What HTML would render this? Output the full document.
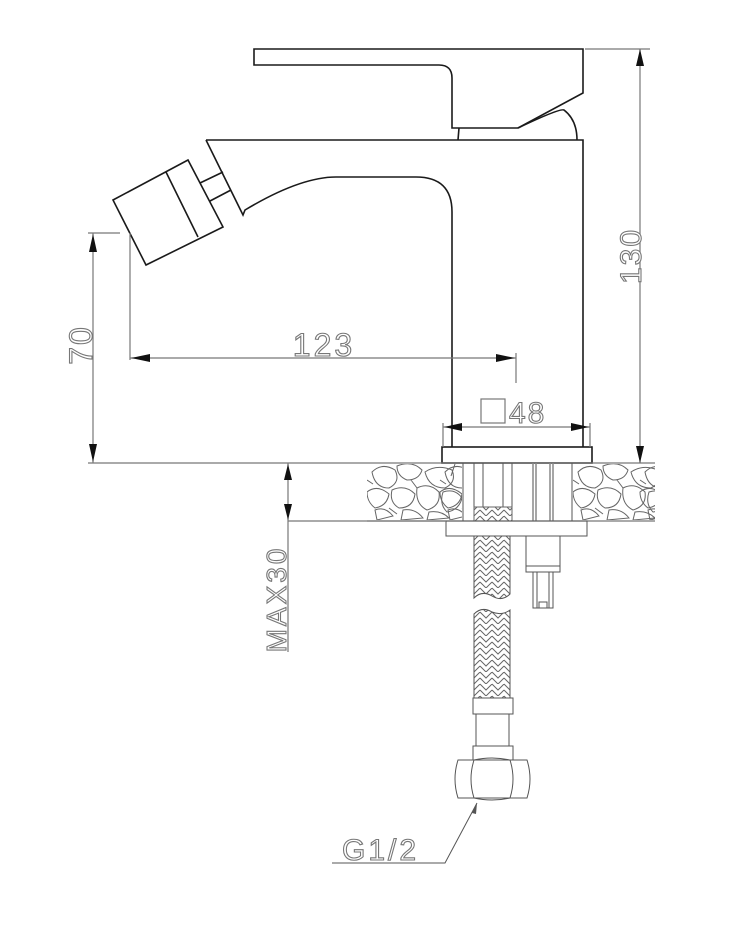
<!DOCTYPE html>
<html><head><meta charset="utf-8"><style>
html,body{margin:0;padding:0;background:#fff;}
svg{display:block;}
.k{fill:none;stroke:#1a1a1a;stroke-width:1.6;}
.d{fill:none;stroke:#777;stroke-width:1.2;}
.t{fill:none;stroke:#555;stroke-width:1;}
.s{fill:none;stroke:#666;stroke-width:1;}
text{font-family:"Liberation Sans",sans-serif;fill:#fff;stroke:#777;stroke-width:1.1;font-weight:normal;}
</style></head><body>
<svg width="750" height="938" viewBox="0 0 750 938" xmlns="http://www.w3.org/2000/svg">
<defs>
<pattern id="br" width="12" height="12" patternUnits="userSpaceOnUse">
<path d="M0 0 L6 6 L12 0 M0 6 L6 12 L12 6 M-6 6 L0 12 M6 -6 L12 0" fill="none" stroke="#666" stroke-width="1"/>
</pattern>
<clipPath id="cl"><rect x="367" y="464" width="95" height="56"/></clipPath>
<clipPath id="cr"><rect x="573" y="464" width="82" height="56"/></clipPath>
<g id="stone">
<path class="s" d="M5 8 Q15 -2 28 6 Q34 18 22 24 Q8 24 5 8Z M30 2 Q45 -4 55 6 Q52 16 40 16 Q30 12 30 2Z M58 8 Q70 0 85 6 Q90 18 78 24 Q62 24 58 8Z M0 28 Q10 20 22 30 Q20 42 8 44 Q0 38 0 28Z M25 26 Q38 20 48 30 Q46 44 32 44 Q22 38 25 26Z M50 24 Q62 18 72 28 Q74 42 60 46 Q48 40 50 24Z M76 28 Q88 24 95 34 Q92 46 80 48 Q72 40 76 28Z M8 46 Q18 42 26 52 L10 56 Z M36 46 Q48 44 56 54 L34 56 Z M62 48 Q74 46 82 54 L60 56Z M88 0 L84 12 M0 16 L6 20 M44 16 L50 24 M22 44 L30 50"/>
</g>
</defs>

<!-- Handle -->
<path class="k" d="M254 49 L583 49 L583 93 L518 128 L452 128 L452 78 Q452 65 439 65 L254 65 Z"/>
<path class="k" d="M458 140 L459 128 M518 128 Q560 108 564 110 Q577 120 577 140"/>
<!-- Body -->
<path class="k" d="M206 140 L583 140 L583 447 M452 447 L452 212 Q452 177 416 177 L336 177 Q300 177 245 210 L243 215 L206 140"/>
<!-- stem -->
<path class="k" d="M200 183 L223 172 M210 201 L231 190"/>
<!-- nozzle -->
<path class="k" d="M113 200 L188 160 L223 227 L146 265 Z M166 172 L198 237"/>

<!-- base plate -->
<rect class="k" x="442" y="447" width="150" height="16"/>

<!-- counter -->
<line class="d" x1="88" y1="463" x2="655" y2="463"/>
<line class="d" x1="367" y1="521" x2="655" y2="521"/>
<g clip-path="url(#cl)">
<use href="#stone" x="367" y="464"/><use href="#stone" x="440" y="464"/>
</g>
<g clip-path="url(#cr)">
<use href="#stone" x="573" y="464"/><use href="#stone" x="640" y="464"/>
</g>
<line class="t" x1="463" y1="463" x2="463" y2="521"/>
<line class="t" x1="572" y1="463" x2="572" y2="521"/>
<!-- inner fittings -->
<path class="t" d="M474 463 L474 507 M483 463 L483 507 M503 463 L503 507 M512 463 L512 507 M474 507 L512 507"/>
<rect x="474" y="507" width="38" height="14" fill="url(#br)" stroke="#666"/>
<path class="t" d="M533 463 V521 M536 463 V521 M550 463 V521 M553 463 V521" style="stroke:#888;stroke-width:1.5"/>
<rect class="t" x="446" y="521" width="141" height="15"/>
<!-- hose -->
<path d="M474 536 L474 598 Q482 590 492 596 Q502 602 510 594 L510 536 Z" fill="url(#br)" stroke="#555"/>
<path d="M474 698 L474 614 Q482 606 492 612 Q502 616 510 610 L510 698 Z" fill="url(#br)" stroke="#555"/>
<rect class="t" x="473" y="698" width="40" height="16"/>
<rect class="t" x="476" y="714" width="33" height="32"/>
<rect class="t" x="473" y="746" width="40" height="14"/>
<path class="t" d="M458 760 L527 760 Q533 779 527 798 L458 798 Q452 779 458 760 Z M474 760 Q468 779 474 798 M510 760 Q516 779 510 798 M474 760 Q492 756 510 760 M474 798 Q492 802 510 798"/>
<!-- right valve -->
<rect class="t" x="526" y="536" width="34" height="36"/>
<path class="t" d="M526 566 L560 566"/>
<path class="t" d="M533 572 L533 608 L553 608 L553 572 M539 608 L539 602 L547 602 L547 608 M537 572 V608 M549 572 V608"/>

<!-- leader G1/2 -->
<path class="t" d="M477 803 L445 863 L332 863"/>
<path d="M477 803 L472 813 L476 814 Z" fill="#555"/>
<text x="342" y="860" font-size="30" letter-spacing="3">G1/2</text>

<!-- 130 dim -->
<path class="d" d="M585 49 L650 49 M640 49 L640 463"/>
<path d="M640 49 L636 66 L644 66Z M640 463 L636 446 L644 446Z" fill="#111"/>
<text transform="translate(641,256) rotate(-90)" text-anchor="middle" font-size="30" letter-spacing="2">130</text>

<!-- 123 dim -->
<path class="d" d="M130 233 L130 360 M130 358 L516 358 M516 353 L516 383"/>
<path d="M131 358 L150 354 L150 362Z M515 358 L496 354 L496 362Z" fill="#111"/>
<text x="324" y="356" text-anchor="middle" font-size="32" letter-spacing="3">123</text>

<!-- 48 dim -->
<path class="d" d="M443 423 L443 447 M590 423 L590 447 M443 427 L590 427"/>
<path d="M444 427 L462 423 L462 431Z M589 427 L571 423 L571 431Z" fill="#111"/>
<rect x="481" y="399" width="24" height="24" fill="none" stroke="#777" stroke-width="1.2"/>
<text x="509" y="423" font-size="30" letter-spacing="2">48</text>

<!-- 70 dim -->
<path class="d" d="M88 233 L120 233 M93 233 L93 463"/>
<path d="M93 234 L89 252 L97 252Z M93 462 L89 444 L97 444Z" fill="#111"/>
<text transform="translate(92,345) rotate(-90)" text-anchor="middle" font-size="32" letter-spacing="2">70</text>

<!-- MAX30 dim -->
<path class="d" d="M288 463 L288 652 M288 521 L446 521"/>
<path d="M288 464 L284 480 L292 480Z M288 520 L284 504 L292 504Z" fill="#111"/>
<text transform="translate(286,599) rotate(-90)" text-anchor="middle" font-size="28" letter-spacing="3">MAX30</text>
</svg>
</body></html>
